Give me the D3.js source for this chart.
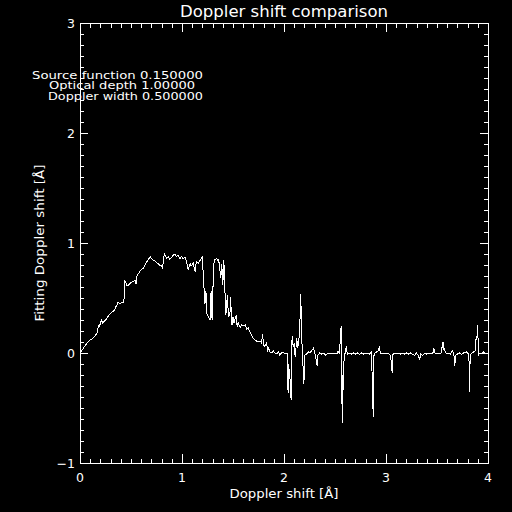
<!DOCTYPE html>
<html>
<head>
<meta charset="utf-8">
<script src="https://cdn.jsdelivr.net/npm/d3@7"></script>
<style>
  body { margin: 0; background: black; }
  text { fill: white; font-family: "DejaVu Sans", sans-serif; }
</style>
</head>
<body>
<svg id="chart" width="512" height="512"></svg>
<script>
// fitted doppler shift vs true doppler shift
const shiftX = [
  0.00, 0.03, 0.06, 0.08, 0.10, 0.12, 0.14, 0.16, 0.17, 0.18, 0.19, 0.20, 0.21, 0.22, 0.24, 0.26,
  0.28, 0.30, 0.32, 0.34, 0.35, 0.36, 0.37, 0.39, 0.42, 0.43, 0.44, 0.45, 0.46, 0.48, 0.50, 0.52,
  0.54, 0.55, 0.56, 0.58, 0.60, 0.62, 0.63, 0.65, 0.67, 0.69, 0.70, 0.72, 0.74, 0.75, 0.77, 0.78,
  0.80, 0.81, 0.82, 0.83, 0.85, 0.865, 0.88, 0.90, 0.915, 0.93, 0.945, 0.96, 0.98, 0.995, 1.01, 1.03,
  1.045, 1.06, 1.08, 1.09, 1.11, 1.13, 1.14, 1.16, 1.18, 1.19, 1.20, 1.21, 1.22, 1.225, 1.235, 1.24,
  1.26, 1.275, 1.285, 1.295, 1.31, 1.32, 1.34, 1.355, 1.36, 1.38, 1.39, 1.40, 1.41, 1.42, 1.43, 1.445,
  1.455, 1.47, 1.475, 1.49, 1.50, 1.51, 1.52, 1.535, 1.54, 1.55, 1.57, 1.585, 1.60, 1.62, 1.635, 1.65,
  1.67, 1.68, 1.70, 1.715, 1.73, 1.745, 1.765, 1.78, 1.79, 1.80, 1.81, 1.83, 1.84, 1.85, 1.86, 1.88,
  1.895, 1.91, 1.93, 1.945, 1.96, 1.98, 2.00, 2.03, 2.035, 2.04, 2.045, 2.06, 2.07, 2.075, 2.08, 2.09,
  2.10, 2.11, 2.125, 2.135, 2.145, 2.155, 2.165, 2.17, 2.18, 2.195, 2.205, 2.22, 2.24, 2.255, 2.27, 2.28,
  2.29, 2.30, 2.31, 2.325, 2.33, 2.35, 2.37, 2.39, 2.41, 2.43, 2.45, 2.47, 2.50, 2.52, 2.53, 2.545,
  2.55, 2.56, 2.565, 2.57, 2.575, 2.58, 2.59, 2.60, 2.61, 2.62, 2.64, 2.66, 2.68, 2.70, 2.72, 2.74,
  2.76, 2.78, 2.80, 2.82, 2.84, 2.86, 2.865, 2.875, 2.88, 2.89, 2.91, 2.925, 2.935, 2.945, 2.96, 2.98,
  3.00, 3.02, 3.04, 3.055, 3.06, 3.065, 3.08, 3.10, 3.12, 3.14, 3.16, 3.18, 3.20, 3.22, 3.24, 3.26,
  3.28, 3.30, 3.32, 3.33, 3.34, 3.36, 3.38, 3.40, 3.42, 3.44, 3.46, 3.47, 3.48, 3.50, 3.52, 3.54,
  3.545, 3.555, 3.56, 3.565, 3.57, 3.59, 3.61, 3.63, 3.65, 3.665, 3.675, 3.68, 3.70, 3.72, 3.74, 3.76,
  3.79, 3.81, 3.815, 3.82, 3.825, 3.84, 3.86, 3.875, 3.88, 3.89, 3.90, 3.905, 3.92, 3.94, 3.955, 3.97,
  3.99, 4.00
]
const fitShift = [
  0.00, 0.04, 0.08, 0.10, 0.12, 0.13, 0.15, 0.17, 0.19, 0.25, 0.24, 0.27, 0.31, 0.27, 0.29, 0.31,
  0.34, 0.36, 0.375, 0.39, 0.42, 0.43, 0.46, 0.45, 0.46, 0.46, 0.66, 0.64, 0.61, 0.62, 0.64, 0.65,
  0.66, 0.63, 0.71, 0.73, 0.76, 0.77, 0.79, 0.82, 0.85, 0.875, 0.86, 0.84, 0.835, 0.82, 0.81, 0.80,
  0.79, 0.77, 0.875, 0.90, 0.86, 0.875, 0.85, 0.87, 0.89, 0.90, 0.875, 0.89, 0.86, 0.875, 0.86, 0.87,
  0.83, 0.755, 0.815, 0.79, 0.815, 0.74, 0.83, 0.815, 0.845, 0.86, 0.875, 0.68, 0.53, 0.45, 0.56, 0.36,
  0.33, 0.30, 0.56, 0.30, 0.80, 0.845, 0.86, 0.83, 0.85, 0.68, 0.81, 0.62, 0.845, 0.59, 0.345, 0.53,
  0.33, 0.345, 0.51, 0.255, 0.33, 0.27, 0.31, 0.345, 0.24, 0.28, 0.23, 0.255, 0.245, 0.255, 0.22, 0.23,
  0.18, 0.17, 0.13, 0.12, 0.11, 0.10, 0.11, 0.09, 0.17, 0.075, 0.06, 0.09, 0.01, 0.05, 0.01, 0.00,
  0.02, 0.00, -0.01, 0.01, -0.02, 0.01, 0.00, 0.00, -0.18, -0.36, -0.10, -0.25, -0.43, 0.02, 0.15, 0.06,
  0.09, -0.04, 0.135, 0.05, 0.10, 0.255, 0.54, 0.24, 0.00, -0.28, -0.02, -0.01, 0.01, 0.00, 0.02, 0.03,
  0.045, 0.00, -0.03, -0.12, -0.02, 0.00, -0.01, 0.00, -0.02, 0.00, -0.01, 0.00, 0.00, -0.01, 0.02, -0.01,
  0.10, 0.245, 0.10, -0.64, -0.20, -0.34, -0.02, 0.00, 0.06, -0.01, 0.00, -0.01, 0.00, -0.01, 0.00, -0.01,
  0.00, -0.01, 0.00, 0.00, -0.01, 0.01, -0.29, -0.58, -0.03, 0.00, 0.01, 0.02, 0.06, 0.00, -0.01, 0.00,
  -0.01, 0.00, -0.02, -0.095, -0.18, -0.02, 0.00, -0.01, 0.00, -0.01, 0.00, -0.01, 0.00, -0.01, 0.00, -0.01,
  -0.02, 0.00, -0.03, -0.06, -0.01, -0.02, 0.00, -0.01, 0.00, -0.01, 0.00, 0.04, 0.00, 0.00, -0.01, 0.00,
  0.03, 0.10, 0.03, 0.10, 0.03, 0.00, 0.00, -0.01, 0.02, -0.01, -0.12, -0.02, -0.01, 0.00, -0.01, 0.00,
  0.01, -0.01, -0.09, -0.35, -0.02, 0.00, 0.01, 0.02, 0.12, 0.12, 0.255, -0.02, 0.00, 0.00, 0.01, 0.00,
  0.00, 0.00
]

const xTicks = [0, 1, 2, 3, 4]
const yTicks = [-1, 0, 1, 2, 3]
const paramLines = ["Source function 0.150000", "Optical depth 1.00000", "Doppler width 0.500000"]
const titleText = "Doppler shift comparison"
const xTitle = "Doppler shift [Å]"
const yTitle = "Fitting Doppler shift [Å]"

const svg = d3.select('#chart')
svg.append('rect').attr('width', 512).attr('height', 512).attr('fill', 'black')

let pLeft = 80, pRight = 488, pTop = 23, pBottom = 463
let x = d3.scaleLinear().domain([0, 4]).range([pLeft, pRight])
let y = d3.scaleLinear().domain([-1, 3]).range([pBottom, pTop])

let xMinor = d3.range(0, 40.5).map(v => v / 10).filter(v => !xTicks.includes(v))
let yMinor = d3.range(-10, 30.5).map(v => v / 10).filter(v => !yTicks.includes(v))

// ticks on all four sides, pointing inward (IDL style)
function tickAxis(axisFn, scale, pos, majLen, minLen) {
  let minor = scale === x ? xMinor : yMinor
  let major = scale === x ? xTicks : yTicks
  let g = svg.append('g').attr('transform', pos)
  g.call(axisFn(scale).tickValues(minor).tickSize(minLen).tickFormat(''))
  g.select('.domain').remove()
  let g2 = svg.append('g').attr('transform', pos)
  g2.call(axisFn(scale).tickValues(major).tickSize(majLen).tickFormat(''))
  g2.select('.domain').remove()
  for (let s of [g, g2]) {
    s.selectAll('line').attr('stroke', 'white').attr('shape-rendering', 'crispEdges')
    s.selectAll('text').remove()
  }
}

tickAxis(d3.axisTop, x, `translate(0,${pBottom})`, 9, 4.5)
tickAxis(d3.axisBottom, x, `translate(0,${pTop})`, 9, 4.5)
tickAxis(d3.axisRight, y, `translate(${pLeft},0)`, 8, 4)
tickAxis(d3.axisLeft, y, `translate(${pRight},0)`, 8, 4)

svg.append('g').selectAll('text').data(xTicks).join('text')
  .attr('x', d => x(d)).attr('y', 482)
  .attr('text-anchor', 'middle').attr('font-size', 12.5)
  .text(d => d)
svg.append('g').selectAll('text').data(yTicks).join('text')
  .attr('x', 75).attr('y', d => y(d) + 4.5)
  .attr('text-anchor', 'end').attr('font-size', 12.5)
  .text(d => d < 0 ? '\u2212' + Math.abs(d) : d)

svg.append('rect')
  .attr('x', pLeft + 0.5).attr('y', pTop + 0.5)
  .attr('width', pRight - pLeft).attr('height', pBottom - pTop)
  .attr('fill', 'none').attr('stroke', 'white')
  .attr('shape-rendering', 'crispEdges')

// curve
let pts = shiftX.map((v, i) => [v, fitShift[i]])
svg.append('path')
  .datum(pts)
  .attr('d', d3.line().x(d => x(d[0])).y(d => y(d[1])))
  .attr('fill', 'none').attr('stroke', 'white').attr('stroke-width', 1)
  .attr('shape-rendering', 'crispEdges')

// titles
svg.append('text').attr('x', 284).attr('y', 17).attr('text-anchor', 'middle')
  .attr('font-size', 16.5).attr('textLength', 208).attr('lengthAdjust', 'spacingAndGlyphs')
  .text(titleText)
svg.append('text').attr('x', 284).attr('y', 498).attr('text-anchor', 'middle')
  .attr('font-size', 13).attr('textLength', 109).attr('lengthAdjust', 'spacingAndGlyphs')
  .text(xTitle)
svg.append('text').attr('transform', 'translate(44,243) rotate(-90)').attr('text-anchor', 'middle')
  .attr('font-size', 13).attr('textLength', 157).attr('lengthAdjust', 'spacingAndGlyphs')
  .text(yTitle)

// parameter annotation, rows packed tight like the original
let paramPos = [[32, 78.5, 171], [49, 89, 146], [48, 99.5, 155]]
svg.append('g').selectAll('text').data(paramLines).join('text')
  .attr('x', (d, i) => paramPos[i][0]).attr('y', (d, i) => paramPos[i][1])
  .attr('font-size', 10.5)
  .attr('textLength', (d, i) => paramPos[i][2]).attr('lengthAdjust', 'spacingAndGlyphs')
  .text(d => d)
</script>
</body>
</html>
